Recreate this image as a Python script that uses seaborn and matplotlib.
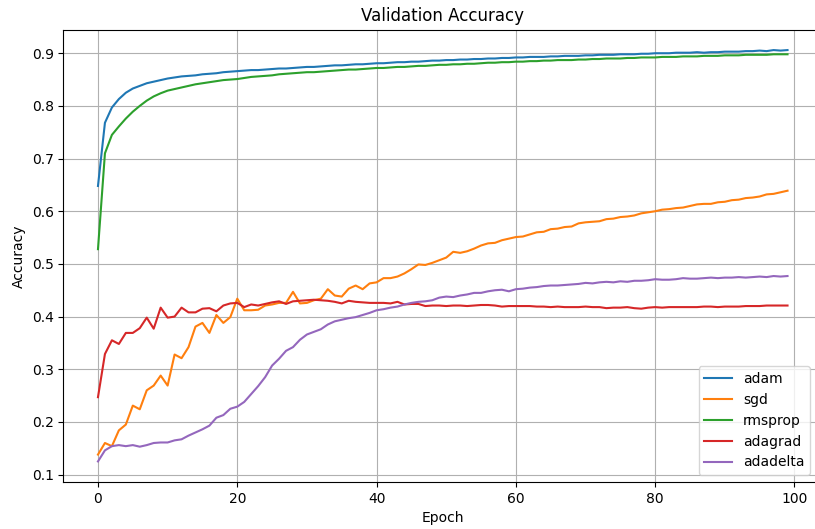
import numpy as np
import pandas as pd
import matplotlib
matplotlib.use("Agg")
import matplotlib.pyplot as plt
import seaborn as sns

epochs = list(range(100))

adam = [0.648, 0.768, 0.797, 0.813, 0.825, 0.833, 0.838, 0.843, 0.846, 0.849,
        0.852, 0.854, 0.856, 0.857, 0.858, 0.860, 0.861, 0.862, 0.864, 0.865,
        0.866, 0.867, 0.868, 0.868, 0.869, 0.870, 0.871, 0.871, 0.872, 0.873,
        0.874, 0.874, 0.875, 0.876, 0.877, 0.877, 0.878, 0.879, 0.879, 0.880,
        0.881, 0.881, 0.882, 0.883, 0.883, 0.884, 0.884, 0.885, 0.886, 0.886,
        0.887, 0.887, 0.888, 0.888, 0.889, 0.889, 0.890, 0.890, 0.891, 0.891,
        0.892, 0.892, 0.893, 0.893, 0.893, 0.894, 0.894, 0.895, 0.895, 0.895,
        0.896, 0.896, 0.897, 0.897, 0.897, 0.898, 0.898, 0.898, 0.899, 0.899,
        0.900, 0.900, 0.900, 0.901, 0.901, 0.901, 0.902, 0.901, 0.902, 0.902,
        0.903, 0.903, 0.903, 0.904, 0.904, 0.905, 0.904, 0.906, 0.905, 0.906]

sgd = [0.138, 0.160, 0.154, 0.184, 0.195, 0.231, 0.224, 0.260, 0.269, 0.288,
       0.269, 0.328, 0.321, 0.342, 0.381, 0.388, 0.369, 0.403, 0.388, 0.399,
       0.434, 0.412, 0.412, 0.413, 0.421, 0.423, 0.426, 0.426, 0.447, 0.425,
       0.426, 0.431, 0.434, 0.452, 0.440, 0.438, 0.453, 0.459, 0.452, 0.463,
       0.465, 0.473, 0.473, 0.476, 0.482, 0.490, 0.499, 0.498, 0.502, 0.507,
       0.512, 0.523, 0.521, 0.524, 0.529, 0.535, 0.539, 0.540, 0.545, 0.548,
       0.551, 0.552, 0.556, 0.560, 0.561, 0.566, 0.567, 0.570, 0.571, 0.577,
       0.579, 0.580, 0.581, 0.585, 0.586, 0.589, 0.590, 0.592, 0.596, 0.598,
       0.600, 0.603, 0.604, 0.606, 0.607, 0.610, 0.613, 0.614, 0.614, 0.617,
       0.618, 0.621, 0.622, 0.625, 0.626, 0.628, 0.632, 0.633, 0.636, 0.639]

rmsprop = [0.528, 0.710, 0.745, 0.761, 0.776, 0.789, 0.800, 0.810, 0.818, 0.824,
           0.829, 0.832, 0.835, 0.838, 0.841, 0.843, 0.845, 0.847, 0.849, 0.850,
           0.851, 0.853, 0.855, 0.856, 0.857, 0.858, 0.860, 0.861, 0.862, 0.863,
           0.864, 0.864, 0.865, 0.866, 0.867, 0.868, 0.869, 0.869, 0.870, 0.871,
           0.872, 0.872, 0.873, 0.874, 0.874, 0.875, 0.876, 0.876, 0.877, 0.878,
           0.878, 0.879, 0.879, 0.880, 0.880, 0.881, 0.882, 0.882, 0.883, 0.883,
           0.884, 0.884, 0.885, 0.885, 0.886, 0.886, 0.887, 0.887, 0.887, 0.888,
           0.888, 0.889, 0.889, 0.890, 0.890, 0.890, 0.891, 0.891, 0.892, 0.892,
           0.892, 0.893, 0.893, 0.893, 0.894, 0.894, 0.894, 0.895, 0.895, 0.895,
           0.896, 0.896, 0.896, 0.897, 0.897, 0.897, 0.897, 0.898, 0.898, 0.898]

adagrad = [0.247, 0.329, 0.355, 0.348, 0.369, 0.369, 0.378, 0.398, 0.377, 0.417,
           0.398, 0.400, 0.417, 0.408, 0.408, 0.415, 0.416, 0.410, 0.421, 0.425,
           0.426, 0.418, 0.423, 0.421, 0.424, 0.427, 0.429, 0.424, 0.429, 0.430,
           0.431, 0.432, 0.431, 0.430, 0.428, 0.425, 0.430, 0.428, 0.427, 0.426,
           0.426, 0.426, 0.425, 0.428, 0.423, 0.424, 0.424, 0.420, 0.421, 0.421,
           0.420, 0.421, 0.421, 0.420, 0.421, 0.422, 0.422, 0.421, 0.419, 0.420,
           0.420, 0.420, 0.420, 0.419, 0.419, 0.418, 0.419, 0.418, 0.418, 0.418,
           0.419, 0.418, 0.418, 0.416, 0.417, 0.417, 0.418, 0.416, 0.415, 0.417,
           0.418, 0.417, 0.418, 0.418, 0.418, 0.418, 0.418, 0.419, 0.419, 0.418,
           0.419, 0.419, 0.419, 0.420, 0.420, 0.420, 0.421, 0.421, 0.421, 0.421]

adadelta = [0.125, 0.146, 0.154, 0.156, 0.154, 0.156, 0.153, 0.156, 0.160, 0.161,
            0.161, 0.165, 0.167, 0.174, 0.180, 0.186, 0.193, 0.208, 0.213, 0.225,
            0.229, 0.238, 0.253, 0.268, 0.285, 0.307, 0.320, 0.335, 0.342, 0.356,
            0.366, 0.371, 0.376, 0.385, 0.391, 0.394, 0.397, 0.399, 0.403, 0.407,
            0.412, 0.414, 0.417, 0.419, 0.423, 0.426, 0.428, 0.429, 0.431, 0.436,
            0.438, 0.437, 0.440, 0.442, 0.445, 0.445, 0.448, 0.450, 0.451, 0.448,
            0.452, 0.453, 0.455, 0.456, 0.458, 0.459, 0.459, 0.460, 0.461, 0.462,
            0.464, 0.463, 0.465, 0.466, 0.465, 0.467, 0.466, 0.468, 0.468, 0.469,
            0.471, 0.470, 0.470, 0.471, 0.473, 0.472, 0.472, 0.473, 0.474, 0.473,
            0.474, 0.474, 0.475, 0.474, 0.475, 0.476, 0.475, 0.477, 0.476, 0.477]

optimizers = ["adam", "sgd", "rmsprop", "adagrad", "adadelta"]
series = [adam, sgd, rmsprop, adagrad, adadelta]

df = pd.concat(
    [pd.DataFrame({"epoch": epochs, "accuracy": vals, "optimizer": name})
     for name, vals in zip(optimizers, series)],
    ignore_index=True,
)

W, H = 815, 529
fig = plt.figure(figsize=(W / 100, H / 100), dpi=100)
left, right, top, bottom = 63.5, 822.0, 29.5, 482.0
ax = fig.add_axes([left / W, 1 - bottom / H, (right - left) / W, (bottom - top) / H])

palette = dict(zip(optimizers, sns.color_palette("tab10", 5)))
sns.lineplot(data=df, x="epoch", y="accuracy", hue="optimizer",
             hue_order=optimizers, palette=palette, linewidth=1.5, ax=ax)

ax.set_title("Validation Accuracy", fontsize=12)
ax.set_xlabel("Epoch")
ax.set_ylabel("Accuracy")
ax.grid(True)

handles, labels = ax.get_legend_handles_labels()
ax.legend(handles, labels, loc="lower right",
          bbox_to_anchor=((817 - left) / (right - left), 0.0))

fig.savefig("out.png", dpi=100)
